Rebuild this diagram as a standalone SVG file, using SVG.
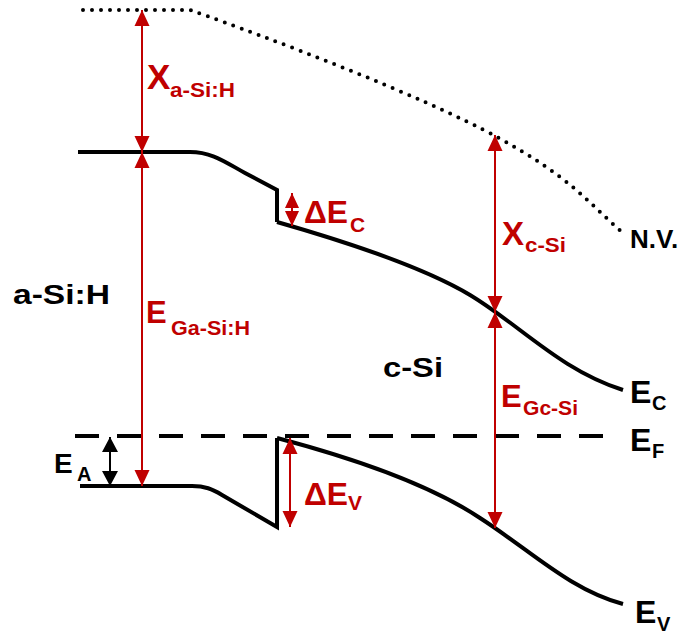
<svg xmlns="http://www.w3.org/2000/svg" width="680" height="634" viewBox="0 0 680 634">
<defs>
<style>
.band{fill:none;stroke:#000;stroke-width:4;stroke-linejoin:miter}
.nv{fill:none;stroke:#000;stroke-width:4;stroke-linecap:round;stroke-dasharray:0 9}
.fermi{fill:none;stroke:#000;stroke-width:4;stroke-dasharray:24 18}
.ra{stroke:#c00000;stroke-width:2;fill:none}
.ka{stroke:#000;stroke-width:2;fill:none}
text{font-family:"Liberation Sans",Arial,Helvetica,sans-serif;font-weight:bold}
.red{fill:#c00000}
.blk{fill:#000}
</style>
<marker id="rh" markerUnits="userSpaceOnUse" markerWidth="16" markerHeight="16" refX="16" refY="7.5" orient="auto-start-reverse" viewBox="0 0 16 15">
<path d="M0,0 L16,7.5 L0,15 Z" fill="#c00000"/>
</marker>
<marker id="rs" markerUnits="userSpaceOnUse" markerWidth="15" markerHeight="14" refX="15" refY="7" orient="auto-start-reverse" viewBox="0 0 15 14">
<path d="M0,0 L15,7 L0,14 Z" fill="#c00000"/>
</marker>
<marker id="kh" markerUnits="userSpaceOnUse" markerWidth="15" markerHeight="16" refX="15" refY="8" orient="auto-start-reverse" viewBox="0 0 15 16">
<path d="M0,0 L15,8 L0,16 Z" fill="#000"/>
</marker>
</defs>

<g id="bands">
<path id="nv-line" class="nv" d="M83,10 H190 C270,38 420,95 497,137 S590,205 622,232"/>
<path id="ec-a" class="band" d="M78,152 H190 C212,152 225,162 245,173 L277,190 V222"/>
<path id="ec-c" class="band" d="M277,222 C340,240 420,265 470,295 C520,325 560,370 623,390"/>
<path id="ev-a" class="band" d="M80,486 H192 C205,486 212,489 222,495 L277,527 V438"/>
<path id="ev-c" class="band" d="M277,438 C330,452 420,478 480,518 C530,550 570,590 623,604"/>
<line id="ef-line" class="fermi" x1="75" y1="436" x2="603" y2="436"/>
</g>

<g id="connectors">
<line class="ra" x1="142" y1="10" x2="142" y2="152" marker-start="url(#rh)" marker-end="url(#rh)"/>
<line class="ra" x1="142" y1="152" x2="142" y2="486" marker-start="url(#rh)" marker-end="url(#rh)"/>
<line class="ra" x1="292" y1="193" x2="292" y2="226" marker-start="url(#rs)" marker-end="url(#rs)"/>
<line class="ra" x1="290" y1="438" x2="290" y2="527" marker-start="url(#rh)" marker-end="url(#rh)"/>
<line class="ra" x1="495" y1="135" x2="495" y2="312" marker-start="url(#rh)" marker-end="url(#rh)"/>
<line class="ra" x1="495" y1="312" x2="495" y2="528" marker-start="url(#rh)" marker-end="url(#rh)"/>
<line class="ka" x1="110" y1="437" x2="110" y2="486" marker-start="url(#kh)" marker-end="url(#kh)"/>
</g>

<g id="label-x-asih">
<text class="red" x="147" y="89" font-size="35">X</text>
<text class="red" x="170" y="97" font-size="20" textLength="65" lengthAdjust="spacingAndGlyphs">a-Si:H</text>
</g>
<g id="label-eg-asih">
<text class="red" x="146" y="323" font-size="31">E</text>
<text class="red" x="171" y="335" font-size="20" textLength="79" lengthAdjust="spacingAndGlyphs">Ga-Si:H</text>
</g>
<g id="label-dec">
<text class="red" x="304" y="223" font-size="31" textLength="44" lengthAdjust="spacingAndGlyphs">ΔE</text>
<text class="red" x="350" y="232" font-size="21">C</text>
</g>
<g id="label-dev">
<text class="red" x="304" y="505" font-size="31" textLength="44" lengthAdjust="spacingAndGlyphs">ΔE</text>
<text class="red" x="348" y="510" font-size="21">V</text>
</g>
<g id="label-x-csi">
<text class="red" x="502" y="245" font-size="33">X</text>
<text class="red" x="525" y="252" font-size="20" textLength="41" lengthAdjust="spacingAndGlyphs">c-Si</text>
</g>
<g id="label-eg-csi">
<text class="red" x="501" y="407" font-size="31">E</text>
<text class="red" x="523" y="415" font-size="20" textLength="55" lengthAdjust="spacingAndGlyphs">Gc-Si</text>
</g>

<g id="label-asih">
<text class="blk" x="13" y="304" font-size="28" textLength="97" lengthAdjust="spacingAndGlyphs">a-Si:H</text>
</g>
<g id="label-csi">
<text class="blk" x="383" y="377" font-size="28" textLength="60" lengthAdjust="spacingAndGlyphs">c-Si</text>
</g>
<g id="label-ea">
<text class="blk" x="54" y="473" font-size="28">E</text>
<text class="blk" x="77" y="481" font-size="20">A</text>
</g>
<g id="label-nv">
<text class="blk" x="630" y="248" font-size="26">N.V.</text>
</g>
<g id="label-ec">
<text class="blk" x="630" y="403" font-size="32">E</text>
<text class="blk" x="652" y="410" font-size="20">C</text>
</g>
<g id="label-ef">
<text class="blk" x="630" y="451" font-size="32">E</text>
<text class="blk" x="652" y="458" font-size="20">F</text>
</g>
<g id="label-ev">
<text class="blk" x="635" y="623" font-size="32">E</text>
<text class="blk" x="657" y="631" font-size="20">V</text>
</g>
</svg>
